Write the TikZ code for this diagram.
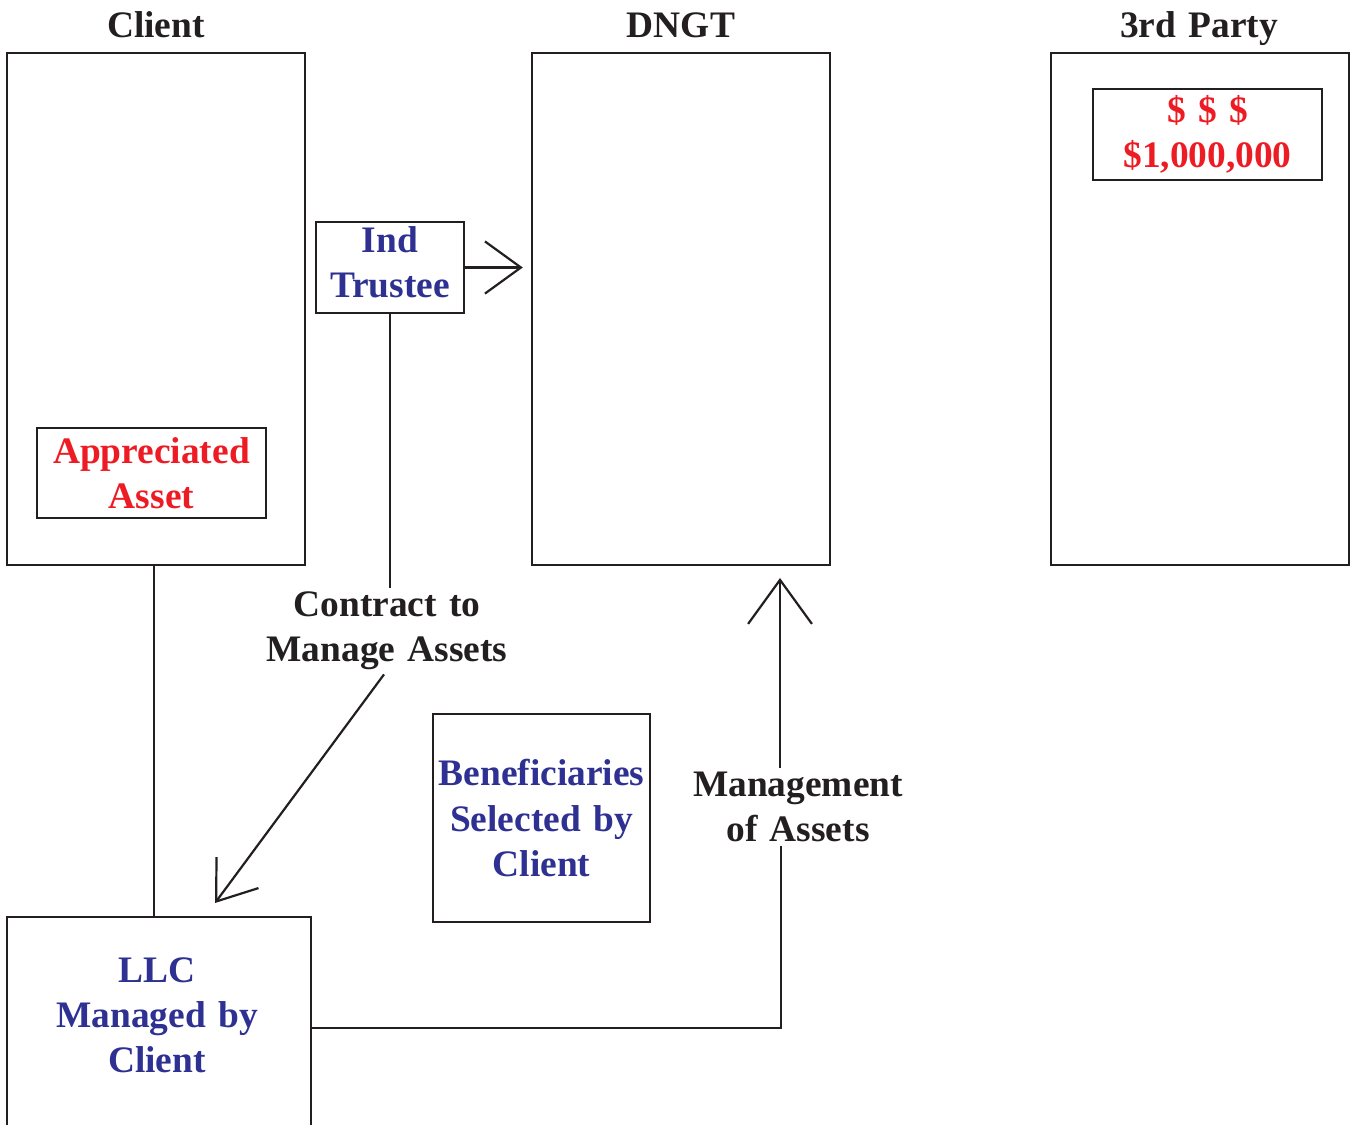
\documentclass[tikz,border=0pt]{standalone}
\usepackage{fontspec}
\setmainfont{Liberation Serif}
\usetikzlibrary{arrows.meta,calc}
\definecolor{tblue}{RGB}{46,49,146}
\definecolor{tred}{RGB}{237,28,36}
\definecolor{tline}{RGB}{35,31,32}
\newcommand\mywidesp{\spaceskip=0.33em plus 0.1em\relax}
\begin{document}
\begin{tikzpicture}[x=0.5pt,y=-0.5pt,
  every node/.style={font=\fontsize{18.7pt}{22.5pt}\selectfont\bfseries\mywidesp},
  bigbox/.style={draw=tline,line width=1.2pt,minimum width=149pt,minimum height=256pt,inner sep=0pt},
  box/.style={draw=tline,line width=1.2pt,inner sep=0pt,align=center},
  title/.style={text=tline,inner sep=0pt,anchor=base},
  lbl/.style={text=tline,align=center,inner sep=2pt},
  conn/.style={draw=tline,line width=1.1pt},
  arr/.style={conn,-{Straight Barb[length=#1pt,width=1.45*#1pt,line width=1.1pt]}},
]
\useasboundingbox (0,0) rectangle (1352,1124);
% titles
\node[title] (tclient) at (156,37) {Client};
\node[title] (tdngt) at (681,37) {DNGT};
\node[title] (tparty) at (1199,37) {3rd Party};
% big boxes
\node[bigbox] (client) at (156,309) {};
\node[bigbox] (dngt) at (681,309) {};
\node[bigbox] (party) at (1200,309) {};
% inner boxes
\node[box,text=tred,minimum width=114.5pt,minimum height=45pt] (asset) at (151.5,473) {Appreciated\\Asset};
\node[box,text=tred,minimum width=114.5pt,minimum height=45.5pt] (money) at (1207.5,134.5) {\$ \$ \$\\\$1,000,000};
\node[box,text=tblue,minimum width=74pt,minimum height=45.5pt,text depth=5pt] (trustee) at (390,267.5) {Ind\\Trustee};
\node[box,text=tblue,minimum width=108.5pt,minimum height=104pt] (benef) at (541.5,818) {Beneficiaries\\Selected by\\Client};
\node[box,minimum width=152pt,minimum height=111pt] (llc) at (159,1028) {};
\node[text=tblue,align=center,inner sep=0pt] (llctext) at (157,1015) {LLC\\Managed by\\Client};
% labels
\node[lbl] (contract) at (387,631) {Contract to\\Manage Assets};
\node[lbl] (mgmt) at (798,807) {Management\\of Assets};
% coordinates
\coordinate (llctip) at (215,903);
\coordinate (mbend) at (781,1028);
\coordinate (mtip) at (780,578);
% connectors
\draw[arr=18] (trustee.east) -- ($(trustee.east -| dngt.west)+(-8,0)$);
\draw[conn] (trustee.south) -- (trustee.south |- contract.north);
\draw[arr=18] ($(contract.south)+(-3,0)$) -- (llctip);
\draw[conn] ($(client.south)+(-2,0)$) -- ($(client.south |- llc.north)+(-2,0)$);
\draw[conn] ($(dngt.south)+(-83,0)$) -- ($(dngt.south)+(-83,0)$ |- benef.north);
\draw[conn] (llc.east) -- (mbend) -- (mbend |- mgmt.south);
\draw[arr=22] (mtip |- mgmt.north) -- (mtip);
\end{tikzpicture}
\end{document}
